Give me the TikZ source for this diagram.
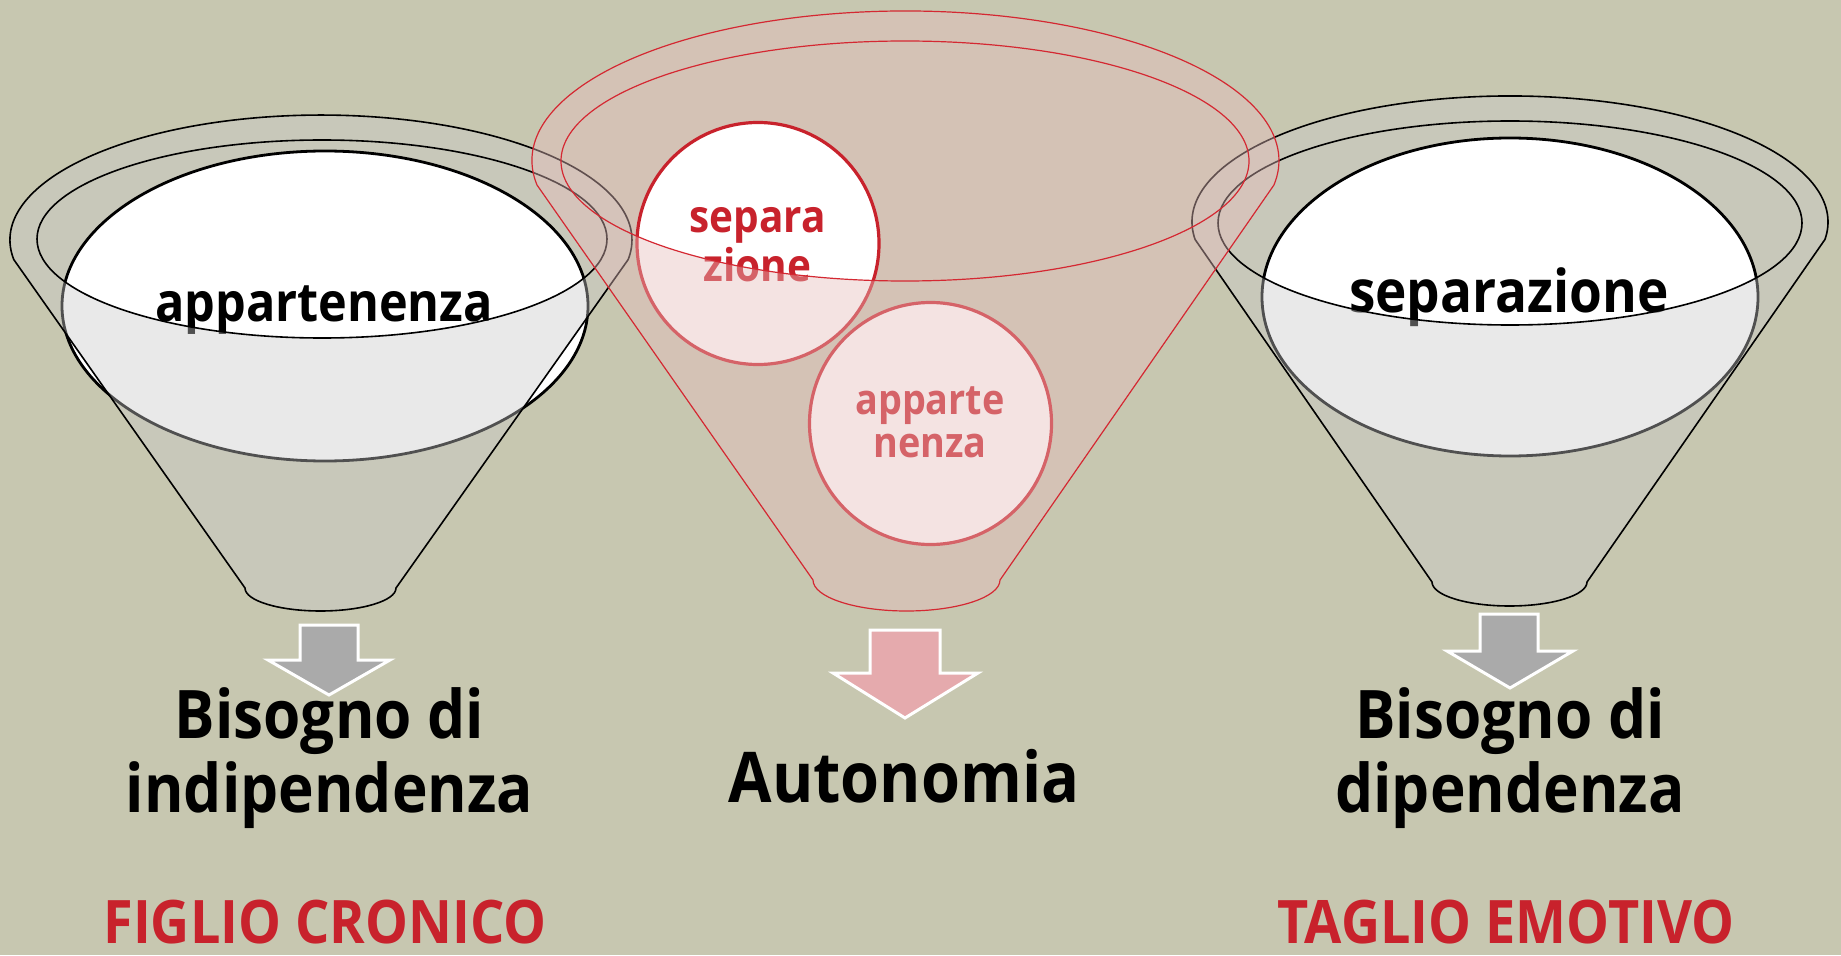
\documentclass[tikz,border=0pt]{standalone}
\usepackage{fontspec}
\setmainfont{Open Sans}[FakeStretch=0.9]
\definecolor{sfondo}{RGB}{199,199,176}
\definecolor{grigioimbuto}{RGB}{202,202,202}
\definecolor{rosaimbuto}{RGB}{231,189,188}
\definecolor{rossoscuro}{RGB}{200,34,44}
\definecolor{rossolinea}{RGB}{212,40,50}
\definecolor{frecciagrigia}{RGB}{170,170,170}
\definecolor{frecciarosa}{RGB}{229,170,173}

\begin{document}
\begin{tikzpicture}[x=0.5pt,y=0.5pt,
grigioretro/.style={fill=grigioimbuto,fill opacity=.4},
grigiofronte/.style={fill=grigioimbuto,fill opacity=.4,draw=black,line width=.8pt,even odd rule},
rosaretro/.style={fill=rosaimbuto,fill opacity=.42},
rosafronte/.style={fill=rosaimbuto,fill opacity=.42,draw=rossolinea,line width=.6pt,even odd rule},
coppa/.style={fill=white,draw=black,line width=1.4pt},
bolla/.style={fill=white,draw=rossoscuro,line width=1.6pt},
freccia/.style={draw=white,line width=1.5pt,line join=miter},
parola/.style={inner sep=0pt,anchor=base,align=center},
coppatesto/.style={parola,font=\fontsize{27}{30}\selectfont\bfseries},
bollatesto/.style={parola,text=rossoscuro,font=\fontsize{22.5}{24.5}\selectfont\bfseries},
esito/.style={parola,font=\fontsize{33.5}{37}\selectfont\bfseries},
etichetta/.style={parola,text=rossoscuro,font=\fontsize{30}{32}\selectfont\bfseries}]
\path[use as bounding box,fill=sfondo] (0,0) rectangle (1841,955);

\begin{scope}[shift={(321,0)}]
\fill[grigioretro] (1,716) ellipse [x radius=285,y radius=99];
\draw[coppa] (4,649) ellipse [x radius=263,y radius=155];
\node[coppatesto] (appartenenza) at (3,633) {appartenenza};
\filldraw[grigiofronte] (-307.2,695.4) arc [start angle=189,end angle=-9,x radius=311,y radius=125]
  -- (75,367) arc [start angle=0,end angle=-180,x radius=75.5,y radius=23] -- cycle
  (1,716) ellipse [x radius=285,y radius=99];
\end{scope}

\begin{scope}[shift={(1510,0)}]
\fill[grigioretro] (0,732) ellipse [x radius=292,y radius=102];
\draw[coppa] (0,658) ellipse [x radius=248,y radius=159];
\node[coppatesto,font=\fontsize{29.5}{30}\selectfont\bfseries] (separazione) at (-1,642) {separazione};
\filldraw[grigiofronte] (-314.9,715.5) arc [start angle=188,end angle=-8,x radius=318,y radius=126]
  -- (77,373) arc [start angle=0,end angle=-180,x radius=77.5,y radius=24] -- cycle
  (0,732) ellipse [x radius=292,y radius=102];
\end{scope}

\begin{scope}[shift={(905.5,0)}]
\fill[rosaretro] (-0.5,794) ellipse [x radius=344,y radius=120];
\draw[bolla] (-147.5,711.5) circle [radius=121];
\draw[bolla] (25,531.5) circle [radius=121];
\node[bollatesto] (separa) at (-148,673.3) {separa\\zione};
\node[bollatesto,font=\fontsize{21}{21.5}\selectfont\bfseries] (apparte) at (24.5,498) {apparte\\nenza};
\filldraw[rosafronte] (-368.5,770) arc [start angle=189.4,end angle=-9.4,x radius=373.5,y radius=149.6]
  -- (94.5,375) arc [start angle=0,end angle=-180,x radius=93.5,y radius=31] -- cycle
  (-0.5,794) ellipse [x radius=344,y radius=120];
\end{scope}

\filldraw[freccia,fill=frecciagrigia] (300,330) -- (358,330) -- (358,295) -- (390,295) -- (329,260) -- (268,295) -- (300,295) -- cycle;
\filldraw[freccia,fill=frecciarosa] (870,325) -- (940,325) -- (940,282) -- (978,282) -- (905,237) -- (833,282) -- (870,282) -- cycle;
\filldraw[freccia,fill=frecciagrigia] (1480,341) -- (1538,341) -- (1538,304) -- (1573,304) -- (1510,267) -- (1447,304) -- (1480,304) -- cycle;

\node[esito] (indipendenza) at (329.5,143) {Bisogno di\\indipendenza};
\node[esito,font=\fontsize{35}{37}\selectfont\bfseries] (autonomia) at (904,153) {Autonomia};
\node[esito] (dipendenza) at (1510,143) {Bisogno di\\dipendenza};
\node[etichetta] (figlio) at (325,12) {FIGLIO CRONICO};
\node[etichetta] (taglio) at (1506,12) {TAGLIO EMOTIVO};
\end{tikzpicture}
\end{document}
